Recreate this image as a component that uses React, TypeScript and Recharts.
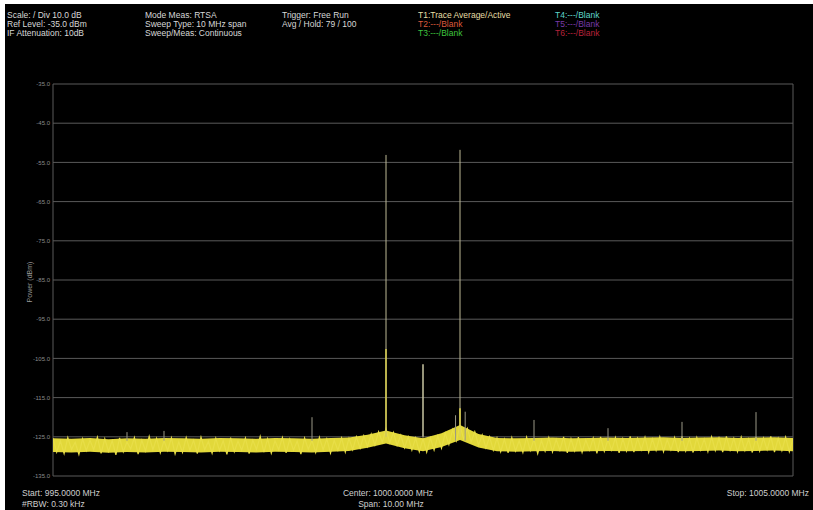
import { ComposedChart, Line, Area, XAxis, YAxis, CartesianGrid } from 'recharts'

// frequency axis, MHz
const freqTicks = [995, 996, 997, 998, 999, 1000, 1001, 1002, 1003, 1004, 1005]
// power axis, dBm
const powerTicks = [-35, -45, -55, -65, -75, -85, -95, -105, -115, -125, -135]

// noise trace, one value every 0.05 MHz from 995.00 to 1005.00
const noiseStart = 995
const noiseStep = 0.05
const noiseValues = [
  -125.4, -128.9, -126.1, -129.3, -125.2, -128.2, -126.4, -129.5, -125.5, -128.5,
  -125.9, -128.3, -125.1, -129.2, -125.5, -128.7, -126.0, -129.6, -125.3, -128.8,
  -126.3, -128.1, -125.2, -129.4, -125.9, -128.6, -124.9, -128.3, -125.4, -129.1,
  -126.0, -128.5, -125.3, -129.4, -126.3, -129.0, -125.2, -128.4, -125.9, -129.3,
  -125.1, -128.3, -126.2, -129.2, -125.4, -128.5, -126.0, -129.5, -125.2, -128.8,
  -126.1, -128.4, -125.3, -129.3, -125.9, -128.2, -124.9, -128.9, -125.5, -129.2,
  -126.0, -128.3, -125.2, -129.1, -125.6, -128.4, -126.1, -129.4, -125.3, -128.2,
  -125.9, -129.0, -125.1, -128.3, -125.5, -129.2, -125.9, -128.4, -125.3, -128.9,
  -125.4, -128.3, -125.0, -127.9, -124.7, -127.5, -124.3, -127.1, -123.7, -126.4,
  -123.0, -126.5, -123.9, -127.2, -124.6, -127.8, -125.0, -128.4, -125.3, -128.8,
  -125.5, -128.9, -125.3, -128.4, -124.8, -127.9, -124.1, -127.0, -123.2, -126.0,
  -122.1, -125.6, -122.9, -126.3, -123.7, -127.1, -124.5, -127.8, -125.0, -128.4,
  -125.3, -128.8, -125.6, -129.1, -125.2, -128.6, -126.0, -129.0, -125.1, -128.5,
  -125.6, -129.3, -125.9, -128.7, -125.2, -128.9, -125.7, -128.4, -125.0, -129.1,
  -125.5, -128.6, -125.1, -129.0, -125.8, -128.4, -125.3, -129.2, -125.0, -128.7,
  -125.7, -128.4, -125.2, -129.1, -125.5, -128.6, -124.9, -128.9, -125.4, -128.3,
  -125.1, -129.0, -125.6, -128.5, -125.0, -128.8, -125.7, -128.3, -125.2, -128.9,
  -124.9, -128.6, -125.4, -129.0, -125.2, -128.4, -125.6, -128.8, -125.0, -128.5,
  -125.3, -128.9, -124.9, -128.4, -125.4, -128.8, -125.1, -128.5, -125.6, -129.0,
  -125.0, -128.6, -125.3, -128.3, -124.9, -128.9, -125.4, -128.5, -125.1, -128.8,
  -125.5,
]

// solid body of the noise band, every 0.25 MHz
const bandFreqs = [
  995, 995.25, 995.5, 995.75, 996, 996.25, 996.5, 996.75, 997, 997.25, 997.5,
  997.75, 998, 998.25, 998.5, 998.75, 999, 999.25, 999.5, 999.75, 1000, 1000.25,
  1000.5, 1000.75, 1001, 1001.25, 1001.5, 1001.75, 1002, 1002.25, 1002.5, 1002.75,
  1003, 1003.25, 1003.5, 1003.75, 1004, 1004.25, 1004.5, 1004.75, 1005,
]
const bandHigh = [
  -125.4, -125.5, -125.3, -125.6, -125.4, -125.5, -125.3, -125.4, -125.5, -125.3, -125.4,
  -125.5, -125.3, -125.4, -125.5, -125.3, -125.2, -124.5, -123.4, -124.6, -125.4, -124.1,
  -122.0, -124.3, -125.3, -125.4, -125.3, -125.2, -125.4, -125.3, -125.2, -125.3,
  -125.2, -125.1, -125.3, -125.2, -125.1, -125.3, -125.2, -125.1, -125.3,
]
const bandLow = [
  -128.9, -129.0, -128.8, -129.1, -128.9, -129.0, -128.8, -128.9, -129.0, -128.8, -128.9,
  -129.0, -128.8, -128.9, -129.0, -128.8, -128.6, -127.8, -126.7, -127.9, -128.7, -127.6,
  -125.8, -127.7, -128.7, -128.8, -128.7, -128.6, -128.8, -128.7, -128.6, -128.7,
  -128.6, -128.5, -128.7, -128.6, -128.5, -128.7, -128.6, -128.5, -128.7,
]

// thin carriers reaching high up (faint)
const carrierFreqs = [999.5, 1000.5]
const carrierTops = [-53.1, -51.8]

// brighter averaged tips
const tipFreqs = [999.5, 1000.0, 1000.5]
const tipTops = [-102.6, -106.5, -117.7]
const tipColors = ['#d8ce4c', '#c9c6a2', '#e4d84a']

// small spurs above the floor
const spurFreqs = [996.0, 996.5, 998.5, 1000.44, 1000.57, 1001.5, 1002.5, 1003.5, 1004.5]
const spurTops = [-123.8, -123.5, -120.0, -119.5, -118.6, -120.7, -122.8, -121.2, -118.7]

const headerRows = [
  ['Scale: / Div 10.0 dB', 'Ref Level: -35.0 dBm', 'IF Attenuation: 10dB'],
  ['Mode Meas: RTSA', 'Sweep Type: 10 MHz span', 'Sweep/Meas: Continuous'],
  ['Trigger: Free Run', 'Avg / Hold: 79 / 100', ''],
]
const traceLabels = [
  ['T1:Trace Average/Active', 'T2:---/Blank', 'T3:---/Blank'],
  ['T4:---/Blank', 'T5:---/Blank', 'T6:---/Blank'],
]
const traceColors = [
  ['#e6dfa6', '#de5a3c', '#3fc43f'],
  ['#5fd6cc', '#7a3aa8', '#b8223a'],
]

const noiseData = noiseValues.map((v, i) => ({ f: +(noiseStart + i * noiseStep).toFixed(2), v }))
const bandData = bandFreqs.map((f, i) => ({ f, band: [bandLow[i], bandHigh[i]] }))

const textStyle: React.CSSProperties = {
  position: 'absolute',
  fontFamily: '"Liberation Sans", Arial, sans-serif',
  fontSize: 8.5,
  lineHeight: '9px',
  whiteSpace: 'nowrap',
}

export default function App() {
  return (
    <div style={{ position: 'fixed', left: 0, top: 0, width: 813, height: 510, background: '#fff', overflow: 'hidden' }}>
      <div style={{ position: 'absolute', left: 5, top: 4, width: 808, height: 506, background: '#000' }} />

      {headerRows.map((col, c) =>
        col.map((t, r) => (
          <div key={`h${c}${r}`} style={{ ...textStyle, left: [7, 145, 282][c], top: 11 + r * 9, color: '#d8d8d8' }}>
            {t}
          </div>
        ))
      )}
      {traceLabels.map((col, c) =>
        col.map((t, r) => (
          <div key={`t${c}${r}`} style={{ ...textStyle, left: [418, 555][c], top: 11 + r * 9, color: traceColors[c][r] }}>
            {t}
          </div>
        ))
      )}

      <div style={{ position: 'absolute', left: 0, top: 0 }}>
        <ComposedChart width={813} height={510} data={noiseData} margin={{ top: 84, right: 20, bottom: 34, left: 23 }}>
          <CartesianGrid stroke="#5a5a5a" strokeWidth={1} />
          <XAxis
            dataKey="f"
            type="number"
            domain={[995, 1005]}
            ticks={freqTicks}
            tick={false}
            tickLine={false}
            axisLine={false}
            height={0}
            allowDataOverflow
          />
          <YAxis
            type="number"
            domain={[-135, -35]}
            ticks={powerTicks}
            width={30}
            tickSize={0}
            tickMargin={3}
            axisLine={false}
            tickLine={false}
            tick={{ fontSize: 6, fill: '#8c8c8c', fontFamily: '"Liberation Sans", Arial, sans-serif' }}
            tickFormatter={(v: number) => v.toFixed(1)}
            allowDataOverflow
          />
          <Area
            data={bandData}
            dataKey="band"
            type="linear"
            stroke="none"
            fill="#e2d83a"
            fillOpacity={1}
            isAnimationActive={false}
          />
          <Line
            dataKey="v"
            type="linear"
            stroke="#e8de48"
            strokeWidth={1.2}
            dot={false}
            isAnimationActive={false}
          />
          {spurFreqs.map((f, i) => (
            <Line
              key={`s${i}`}
              data={[{ f, v: -126 }, { f, v: spurTops[i] }]}
              dataKey="v"
              stroke="#9a9886"
              strokeWidth={1}
              dot={false}
              isAnimationActive={false}
            />
          ))}
          {carrierFreqs.map((f, i) => (
            <Line
              key={`c${i}`}
              data={[{ f, v: -125 }, { f, v: carrierTops[i] }]}
              dataKey="v"
              stroke="#bdb995"
              strokeWidth={1}
              dot={false}
              isAnimationActive={false}
            />
          ))}
          {tipFreqs.map((f, i) => (
            <Line
              key={`p${i}`}
              data={[{ f, v: -125 }, { f, v: tipTops[i] }]}
              dataKey="v"
              stroke={tipColors[i]}
              strokeWidth={1.5}
              dot={false}
              isAnimationActive={false}
            />
          ))}
        </ComposedChart>
      </div>

      <div
        style={{
          ...textStyle,
          fontSize: 7,
          color: '#9a9a9a',
          left: 29,
          top: 282,
          transform: 'translate(-50%, -50%) rotate(-90deg)',
        }}
      >
        Power (dBm)
      </div>

      <div style={{ ...textStyle, left: 22, top: 489, color: '#cfcfcf' }}>Start: 995.0000 MHz</div>
      <div style={{ ...textStyle, left: 22, top: 500, color: '#cfcfcf' }}>#RBW: 0.30 kHz</div>
      <div style={{ ...textStyle, left: 388, top: 489, color: '#cfcfcf', transform: 'translateX(-50%)' }}>
        Center: 1000.0000 MHz
      </div>
      <div style={{ ...textStyle, left: 391, top: 500, color: '#cfcfcf', transform: 'translateX(-50%)' }}>
        Span: 10.00 MHz
      </div>
      <div style={{ ...textStyle, right: 4, top: 489, color: '#cfcfcf' }}>Stop: 1005.0000 MHz</div>
    </div>
  )
}
